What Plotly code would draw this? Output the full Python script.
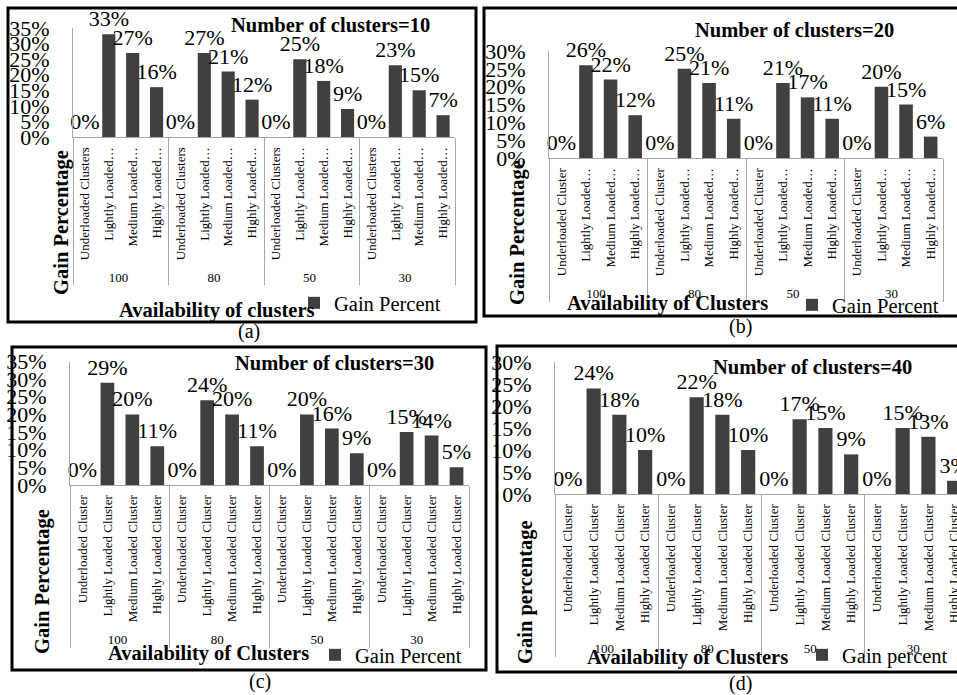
import plotly.graph_objects as go

W, H = 957, 695

# ---- data -------------------------------------------------------------
availability = ["100", "80", "50", "30"]

cats_a = ["Underloaded Clusters", "Lightly Loaded…", "Medium Loaded…", "Highly Loaded…"]
cats_b = ["Underloaded Cluster", "Lightly Loaded…", "Medium Loaded…", "Highly Loaded…"]
cats_full = ["Underloaded Cluster", "Lightly Loaded Cluster",
             "Medium Loaded Cluster", "Highly Loaded Cluster"]

gain_10 = [0, 33, 27, 16, 0, 27, 21, 12, 0, 25, 18, 9, 0, 23, 15, 7]
gain_20 = [0, 26, 22, 12, 0, 25, 21, 11, 0, 21, 17, 11, 0, 20, 15, 6]
gain_30 = [0, 29, 20, 11, 0, 24, 20, 11, 0, 20, 16, 9, 0, 15, 14, 5]
gain_40 = [0, 24, 18, 10, 0, 22, 18, 10, 0, 17, 15, 9, 0, 15, 13, 3]

panel_titles = ["Number of clusters=10", "Number of clusters=20",
                "Number of clusters=30", "Number of clusters=40"]
y_titles = ["Gain Percentage", "Gain Percentage", "Gain Percentage", "Gain percentage"]
x_titles = ["Availability of clusters", "Availability of Clusters",
            "Availability of Clusters", "Availability of Clusters"]
series_names = ["Gain Percent", "Gain Percent", "Gain Percent", "Gain percent"]
captions = ["(a)", "(b)", "(c)", "(d)"]
y_max = [35, 30, 35, 30]

panel_cats = [cats_a, cats_b, cats_full, cats_full]
panel_vals = [gain_10, gain_20, gain_30, gain_40]

# ---- layout geometry (pixels) -----------------------------------------
# plot area: left, right, top, bottom ; x range upper bound
plot_px = [
    dict(l=73, r=455, t=28, b=137, xr=15.5),
    dict(l=549, r=943, t=51, b=158, xr=15.5),
    dict(l=70, r=469, t=361.5, b=485, xr=15.5),
    dict(l=555, r=957, t=362, b=494, xr=15.11),
]
frame_px = [(8, 8, 476, 322), (484, 8, 962, 316), (12, 347, 486, 670), (497, 346, 962, 672)]
title_px = [(330, 25), (794, 30), (334, 363), (812, 367)]
ytitle_px = [(62, 223), (517, 233), (42, 582), (525, 592)]
xtitle_px = [(217, 310), (667, 303), (208, 653), (687, 657)]
legend_px = [(332, 303), (830, 305), (353, 655), (840, 655)]
caption_px = [(249, 331), (740, 326), (260, 681), (740, 683)]

FONT = "Liberation Serif"
BAR = "#404040"
AXIS = "#a6a6a6"


def px(x):
    return x / W


def py(y):
    return 1 - y / H


fig = go.Figure()
layout = dict(
    width=W, height=H,
    margin=dict(l=0, r=0, t=0, b=0, pad=0, autoexpand=False),
    paper_bgcolor="white", plot_bgcolor="white",
    font=dict(family=FONT, color="black"),
    bargap=0.45,
)
annotations = []
shapes = []

for i in range(4):
    sfx = "" if i == 0 else str(i + 1)
    cats = panel_cats[i]
    vals = panel_vals[i]
    outer = [g for g in availability for _ in cats]
    inner = [c for _ in availability for c in cats]
    g = plot_px[i]
    yticks = list(range(0, y_max[i] + 1, 5))

    fig.add_trace(go.Bar(
        x=[outer, inner], y=vals,
        xaxis="x" + sfx, yaxis="y" + sfx,
        name=series_names[i], legend="legend" + sfx,
        marker=dict(color=BAR, line=dict(width=0)),
        width=0.55,
        text=["%d%%" % v for v in vals], textposition="outside",
        textfont=dict(family=FONT, size=22, color="black"),
        constraintext="none", cliponaxis=False,
        showlegend=True,
    ))

    layout["xaxis" + sfx] = dict(
        type="multicategory",
        domain=[px(g["l"]), px(g["r"])],
        anchor="y" + sfx,
        range=[-0.5, g["xr"]],
        tickangle=-90,
        tickfont=dict(family=FONT, size=13, color="black"),
        showline=True, linecolor=AXIS, linewidth=1,
        showdividers=True, dividercolor=AXIS, dividerwidth=1,
        showgrid=False, zeroline=False, ticks="",
        ticklabelstandoff=4,
    )
    layout["yaxis" + sfx] = dict(
        domain=[py(g["b"]), py(g["t"])],
        anchor="x" + sfx,
        range=[0, y_max[i]],
        tickmode="array",
        tickvals=yticks,
        ticktext=["%d%%" % t for t in yticks],
        tickfont=dict(family=FONT, size=22, color="black"),
        showline=True, linecolor=AXIS, linewidth=1,
        showgrid=False, zeroline=False, ticks="",
        ticklabelstandoff=18,
    )

    lx, ly = legend_px[i]
    layout["legend" + sfx] = dict(
        x=px(lx - 38), y=py(ly), xanchor="left", yanchor="middle",
        xref="paper", yref="paper",
        bgcolor="rgba(0,0,0,0)", borderwidth=0,
        font=dict(family=FONT, size=20.5, color="black"),
        itemwidth=30,
    )

    tx, ty = title_px[i]
    annotations.append(dict(
        x=px(tx), y=py(ty), xref="paper", yref="paper",
        text="<b>%s</b>" % panel_titles[i], showarrow=False,
        font=dict(family=FONT, size=20.5, color="black"),
        xanchor="center", yanchor="middle",
    ))
    yx, yy = ytitle_px[i]
    annotations.append(dict(
        x=px(yx), y=py(yy), xref="paper", yref="paper",
        text="<b>%s</b>" % y_titles[i], showarrow=False, textangle=-90,
        font=dict(family=FONT, size=20.5, color="black"),
        xanchor="center", yanchor="middle",
    ))
    xx, xy = xtitle_px[i]
    annotations.append(dict(
        x=px(xx), y=py(xy), xref="paper", yref="paper",
        text="<b>%s</b>" % x_titles[i], showarrow=False,
        font=dict(family=FONT, size=20.5, color="black"),
        xanchor="center", yanchor="middle",
    ))
    cx, cy = caption_px[i]
    annotations.append(dict(
        x=px(cx), y=py(cy), xref="paper", yref="paper",
        text=captions[i], showarrow=False,
        font=dict(family=FONT, size=20, color="black"),
        xanchor="center", yanchor="middle",
    ))

    x0, y0, x1, y1 = frame_px[i]
    shapes.append(dict(
        type="rect", xref="paper", yref="paper",
        x0=px(x0), x1=px(x1), y0=py(y1), y1=py(y0),
        line=dict(color="black", width=3), fillcolor="rgba(0,0,0,0)",
        layer="above",
    ))

layout["annotations"] = annotations
layout["shapes"] = shapes
fig.update_layout(**layout)

fig.write_html("out.html")
